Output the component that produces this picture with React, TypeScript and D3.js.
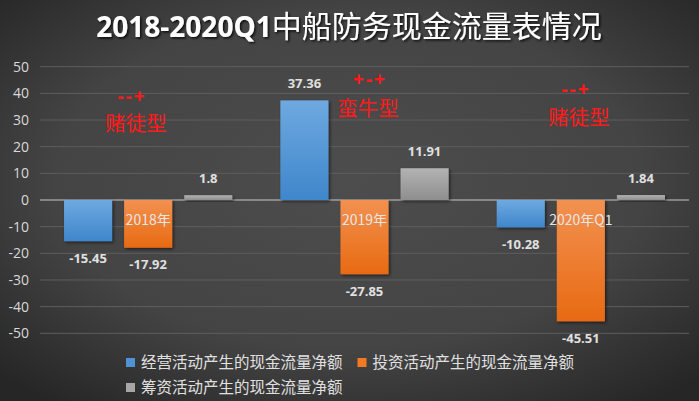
import React from "react";
import * as d3 from "d3";

const categories = ["2018年", "2019年", "2020年Q1"];
const seriesNames = ["经营活动产生的现金流量净额", "投资活动产生的现金流量净额", "筹资活动产生的现金流量净额"];
const operating = [-15.45, 37.36, -10.28];
const investing = [-17.92, -27.85, -45.51];
const financing = [1.8, 11.91, 1.84];
const yTicks = [50, 40, 30, 20, 10, 0, -10, -20, -30, -40, -50];
const signLabels = ["--+", "+-+", "--+"];
const typeLabels = ["赌徒型", "蛮牛型", "赌徒型"];
const title = "2018-2020Q1";
const titleCn = "中船防务现金流量表情况";

const W = 699, H = 401;
const plotLeft = 40, plotRight = 689;

export default function App() {
  const y = d3.scaleLinear().domain([-50, 50]).range([333.3, 66.7]);
  const x0 = d3.scaleBand<string>().domain(categories).range([plotLeft, plotRight]).padding(0);
  const x1 = d3.scaleBand<number>().domain([0, 1, 2]).range([0, x0.bandwidth()]).paddingInner(0.2).paddingOuter(0.4);
  const series = [operating, investing, financing];
  const grads = ["gBlue", "gOrange", "gGray"];
  const legendColors = ["#4f93d6", "#f07b22", "#a6a6a6"];
  const signPos = [[132, 96, 136, 124], [370, 79, 368, 109], [576, 89, 579, 118]];
  const fontLatin = "'Open Sans', 'Noto Sans', sans-serif";
  const fontCjk = "'Noto Sans CJK SC', sans-serif";

  return (
    <svg width={W} height={H} style={{ position: "absolute", left: 0, top: 0 }}>
      <defs>
        <radialGradient id="bg" cx="50%" cy="45%" r="70%">
          <stop offset="0%" stopColor="#4d4d4d" />
          <stop offset="60%" stopColor="#444444" />
          <stop offset="100%" stopColor="#262626" />
        </radialGradient>
        <linearGradient id="gBlue" x1="0" y1="0" x2="0" y2="1">
          <stop offset="0%" stopColor="#6ea9e0" />
          <stop offset="100%" stopColor="#3f86cb" />
        </linearGradient>
        <linearGradient id="gOrange" x1="0" y1="0" x2="0" y2="1">
          <stop offset="0%" stopColor="#f29150" />
          <stop offset="100%" stopColor="#e86a12" />
        </linearGradient>
        <linearGradient id="gGray" x1="0" y1="0" x2="0" y2="1">
          <stop offset="0%" stopColor="#b3b3b3" />
          <stop offset="100%" stopColor="#8e8e8e" />
        </linearGradient>
        <filter id="shadow" x="-20%" y="-20%" width="150%" height="150%">
          <feDropShadow dx="1.5" dy="1.5" stdDeviation="1.5" floodColor="#000" floodOpacity="0.55" />
        </filter>
        <filter id="tshadow" x="-5%" y="-20%" width="110%" height="160%">
          <feDropShadow dx="1.5" dy="1.5" stdDeviation="1" floodColor="#000" floodOpacity="0.8" />
        </filter>
      </defs>
      <rect x={0} y={0} width={W} height={H} fill="url(#bg)" />

      <text x={349} y={37} textAnchor="middle" fill="#ffffff" filter="url(#tshadow)">
        <tspan fontFamily={fontLatin} fontWeight="bold" fontSize={28}>{title}</tspan>
        <tspan fontFamily={fontCjk} fontSize={30} fontWeight="normal">{titleCn}</tspan>
      </text>

      {yTicks.map((t) => (
        <g key={t}>
          <line x1={plotLeft} x2={plotRight} y1={y(t)} y2={y(t)} stroke={t === 0 ? "#c8c8c8" : "#5e5e5e"} strokeWidth={1} />
          <text x={29} y={y(t)} dy="0.35em" textAnchor="end" fill="#d9d9d9" fontFamily={fontLatin} fontSize={14}>{t}</text>
        </g>
      ))}

      {categories.map((c, ci) => (
        <g key={c} transform={`translate(${x0(c)},0)`}>
          {series.map((s, si) => {
            const v = s[ci];
            const bx = x1(si)!;
            const top = y(Math.max(0, v));
            const h = Math.abs(y(v) - y(0));
            return (
              <g key={si}>
                <rect x={bx} y={top} width={x1.bandwidth()} height={h} fill={`url(#${grads[si]})`} filter="url(#shadow)" />
                <text
                  x={bx + x1.bandwidth() / 2}
                  y={v >= 0 ? y(v) - 17 : y(v) + 17}
                  dy="0.35em"
                  textAnchor="middle"
                  fill="#e0e0e0"
                  fontFamily={fontLatin}
                  fontWeight="bold"
                  fontSize={13}
                >
                  {v}
                </text>
              </g>
            );
          })}
          <text x={x0.bandwidth() / 2} y={220} dy="0.35em" textAnchor="middle" fill="#e6e6e6" fontFamily={fontCjk} fontSize={14}>{c}</text>
        </g>
      ))}

      {categories.map((c, ci) => (
        <g key={"a" + c}>
          <text x={signPos[ci][0]} y={signPos[ci][1]} dy="0.35em" textAnchor="middle" fill="#ff1a1a" fontFamily={fontLatin} fontWeight="bold" fontSize={19} letterSpacing={2}>{signLabels[ci]}</text>
          <text x={signPos[ci][2]} y={signPos[ci][3]} dy="0.35em" textAnchor="middle" fill="#ff1a1a" fontFamily={fontCjk} fontSize={20.5}>{typeLabels[ci]}</text>
        </g>
      ))}

      {seriesNames.map((n, i) => {
        const lx = i === 1 ? 357.5 : 126;
        const ly = i === 2 ? 387.5 : 362.5;
        return (
          <g key={n}>
            <rect x={lx} y={ly - 4.5} width={9} height={9} fill={legendColors[i]} />
            <text x={lx + 15} y={ly} dy="0.35em" fill="#e0e0e0" fontFamily={fontCjk} fontSize={15.5}>{n}</text>
          </g>
        );
      })}
    </svg>
  );
}
